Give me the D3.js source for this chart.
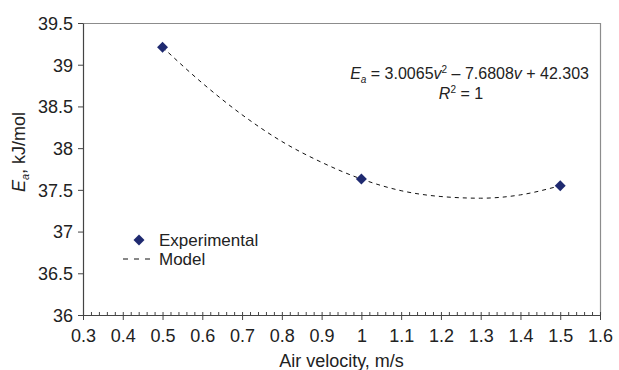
<!DOCTYPE html>
<html>
<head>
<meta charset="utf-8">
<script src="https://cdn.jsdelivr.net/npm/d3@7"></script>
<style>
  body { margin: 0; background: #fff; }
  text { font-family: "Liberation Sans", Arial, sans-serif; fill: #222; }
</style>
</head>
<body>
<div id="viz"></div>
<script>
// experimental points
var velocity = [0.5, 1.0, 1.5];
var energy = [39.21, 37.63, 37.55];

// model curve
var modelV = [0.5, 0.6, 0.7, 0.8, 0.9, 1.0, 1.1, 1.2, 1.3, 1.4, 1.5];
var modelE = [39.21, 38.78, 38.40, 38.08, 37.83, 37.63, 37.49, 37.42, 37.40, 37.44, 37.55];

var xTicks = [0.3, 0.4, 0.5, 0.6, 0.7, 0.8, 0.9, 1.0, 1.1, 1.2, 1.3, 1.4, 1.5, 1.6];
var yTicks = [36, 36.5, 37, 37.5, 38, 38.5, 39, 39.5];

var W = 619, H = 370,
    margin = { top: 23, right: 19, bottom: 55, left: 83 },
    width = W - margin.left - margin.right,
    height = H - margin.top - margin.bottom;

var svg = d3.select('#viz').append('svg')
  .attr('width', W)
  .attr('height', H);

var x = d3.scaleLinear().domain([0.3, 1.6]).range([0, width]);
var y = d3.scaleLinear().domain([36, 39.5]).range([height, 0]);

var g = svg.append('g')
  .attr('transform', 'translate(' + margin.left + ',' + margin.top + ')');

// top and right frame
g.append('path')
  .attr('d', 'M0,0.5H' + (width + 0.5) + 'V' + height)
  .attr('fill', 'none')
  .attr('stroke', '#8c8c8c')
  .attr('stroke-width', 1.2);

// minor x ticks (inside)
var minor = d3.range(0, 66).map(function(i) { return 0.3 + i * 0.02; });
var xMinor = d3.axisBottom(x).tickValues(minor).tickSize(-3).tickFormat('');
g.append('g')
  .attr('transform', 'translate(0,' + height + ')')
  .call(xMinor)
  .call(function(s) { s.select('.domain').remove(); })
  .selectAll('line').attr('stroke', '#444');

// x axis
var xAxis = d3.axisBottom(x).tickValues(xTicks).tickSize(5).tickSizeOuter(0)
  .tickFormat(function(d) { return d3.format('')(+d.toFixed(1)); });
var xg = g.append('g')
  .attr('transform', 'translate(0,' + height + ')')
  .call(xAxis);
xg.select('.domain').attr('stroke', '#444').attr('stroke-width', 1.2);
xg.selectAll('line').attr('stroke', '#444');
xg.selectAll('text')
  .attr('dy', null)
  .attr('y', 27)
  .style('font-size', '18px')
  .style('font-family', '"Liberation Sans", Arial, sans-serif')
  .attr('fill', '#222');

// y axis
var yAxis = d3.axisLeft(y).tickValues(yTicks).tickSize(5).tickSizeOuter(0)
  .tickFormat(function(d) { return d3.format('')(d); });
var yg = g.append('g').call(yAxis);
yg.select('.domain').attr('stroke', '#444').attr('stroke-width', 1.2);
yg.selectAll('line').attr('stroke', '#444');
yg.selectAll('text')
  .attr('x', -10)
  .attr('dy', '0.35em')
  .style('font-size', '18px')
  .style('font-family', '"Liberation Sans", Arial, sans-serif')
  .attr('fill', '#222');

// model line
var line = d3.line()
  .x(function(d, i) { return x(modelV[i]); })
  .y(function(d) { return y(d); })
  .curve(d3.curveMonotoneX);

g.append('path')
  .datum(modelE)
  .attr('d', line)
  .attr('fill', 'none')
  .attr('stroke', '#111')
  .attr('stroke-width', 1)
  .attr('stroke-dasharray', '4,4');

// experimental points
var diamond = d3.symbol().type(d3.symbolSquare).size(60);
g.selectAll('.pt').data(energy)
  .enter().append('path')
  .attr('class', 'pt')
  .attr('d', diamond)
  .attr('fill', '#1f2a70')
  .attr('transform', function(d, i) {
    return 'translate(' + x(velocity[i]) + ',' + y(d) + ') rotate(45)';
  });

// equation
var eq = svg.append('text')
  .attr('x', 589).attr('y', 79)
  .attr('text-anchor', 'end')
  .style('font-size', '16px');
eq.append('tspan').attr('font-style', 'italic').text('E');
eq.append('tspan').attr('font-style', 'italic').attr('font-size', '10px').attr('dy', 4).text('a');
eq.append('tspan').attr('dy', -4).text(' = 3.0065');
eq.append('tspan').attr('font-style', 'italic').text('v');
eq.append('tspan').attr('font-size', '10px').attr('dy', -6).text('2');
eq.append('tspan').attr('dy', 6).text(' \u2013 7.6808');
eq.append('tspan').attr('font-style', 'italic').text('v');
eq.append('tspan').text(' + 42.303');

var r2 = svg.append('text')
  .attr('x', 461).attr('y', 99)
  .attr('text-anchor', 'middle')
  .style('font-size', '16px');
r2.append('tspan').attr('font-style', 'italic').text('R');
r2.append('tspan').attr('font-size', '10px').attr('dy', -6).text('2');
r2.append('tspan').attr('dy', 6).text(' = 1');

// legend
svg.append('path')
  .attr('d', diamond)
  .attr('fill', '#1f2a70')
  .attr('transform', 'translate(139,240) rotate(45)');
svg.append('text').attr('x', 159).attr('y', 245.5)
  .style('font-size', '17px').text('Experimental');
svg.append('line')
  .attr('x1', 123).attr('x2', 154).attr('y1', 259).attr('y2', 259)
  .attr('stroke', '#111').attr('stroke-dasharray', '5,6');
svg.append('text').attr('x', 159).attr('y', 265)
  .style('font-size', '17px').text('Model');

// axis titles
svg.append('text')
  .attr('x', margin.left + width / 2).attr('y', 367)
  .attr('text-anchor', 'middle')
  .style('font-size', '18px')
  .text('Air velocity, m/s');

var yt = svg.append('text')
  .attr('transform', 'translate(25,152) rotate(-90)')
  .attr('text-anchor', 'middle')
  .style('font-size', '18px');
yt.append('tspan').attr('font-style', 'italic').text('E');
yt.append('tspan').attr('font-style', 'italic').attr('font-size', '11px').attr('dy', 4).text('a');
yt.append('tspan').attr('dy', -4).text(', kJ/mol');
</script>
</body>
</html>
